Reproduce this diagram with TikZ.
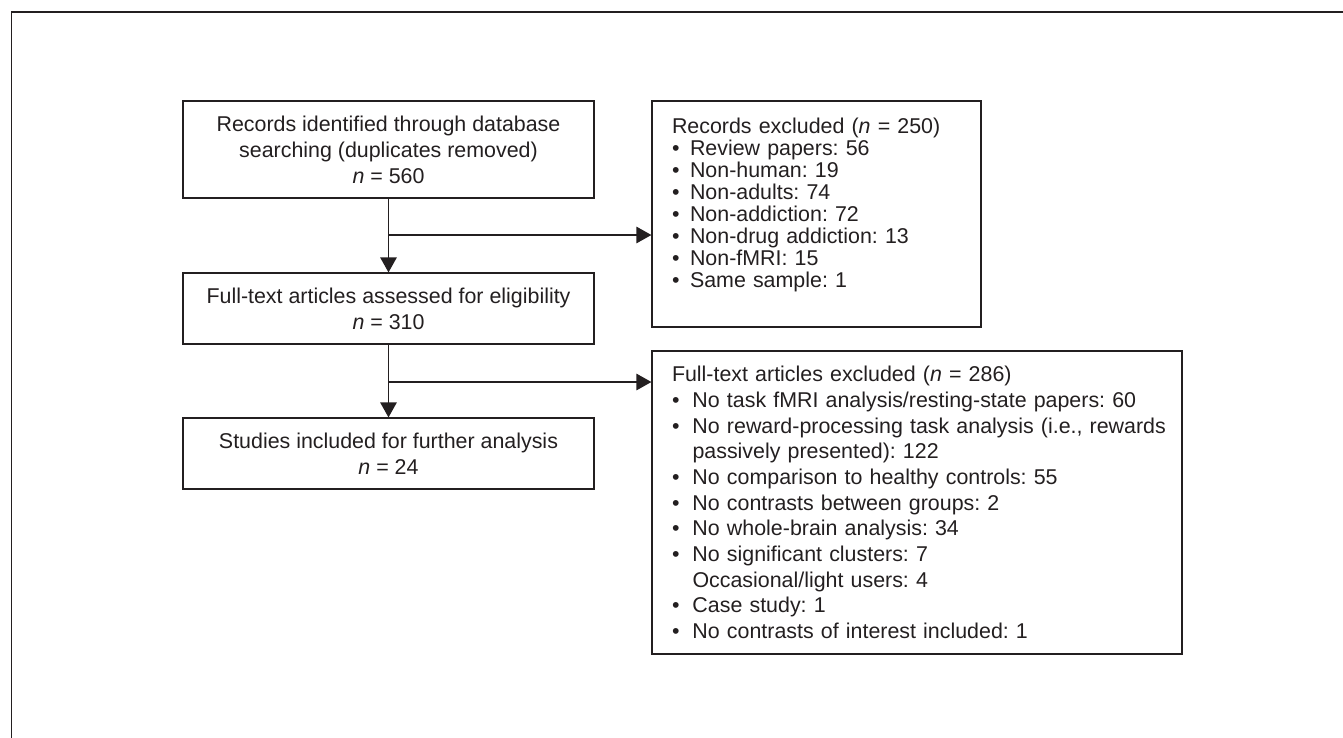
\documentclass[tikz,border=0pt]{standalone}
\usepackage{fontspec}
\setmainfont{Liberation Sans}
\usetikzlibrary{arrows.meta,calc}
\definecolor{ink}{HTML}{231F20}
\frenchspacing
\newcommand{\bulA}{\makebox[18pt][l]{•}}
\newcommand{\bulB}{\makebox[20.5pt][l]{•}}
\newcommand{\indB}{\hspace*{20.5pt}}
\begin{document}
\begin{tikzpicture}[x=1pt,y=-1pt,
  every node/.style={text=ink},
  cbox/.style={draw=ink, line width=1.2pt, minimum width=411pt, align=center,
    font=\fontsize{21.4}{26}\selectfont\frenchspacing, inner sep=0pt},
  lboxA/.style={draw=ink, line width=1.2pt, inner xsep=20pt, inner ysep=0pt,
    text width=289pt, align=left, font=\fontsize{21.4}{22}\selectfont\frenchspacing},
  lboxB/.style={draw=ink, line width=1.2pt, inner xsep=20pt, inner ysep=0pt,
    text width=490pt, align=left, font=\fontsize{21.4}{25.7}\selectfont\frenchspacing},
  arr/.style={draw=ink, line width=1.2pt, -{Triangle[length=15pt,width=16.5pt]}},
  conn/.style={draw=ink, line width=1.2pt}
]
\useasboundingbox (0,0) rectangle (1343,738);
% outer frame
\draw[draw=ink, line width=1.3pt] (11.5,738) -- (11.5,12) -- (1343,12);

\node[cbox, minimum height=97pt] (b1) at (388.5,149.5)
  {Records identified through database\\searching (duplicates removed)\\\textit{n} = 560};
\node[cbox, minimum height=71pt] (b2) at (388.5,308.5)
  {Full-text articles assessed for eligibility\\\textit{n} = 310};
\node[cbox, minimum height=71pt] (b3) at (388.5,453.5)
  {Studies included for further analysis\\\textit{n} = 24};

\node[lboxA, minimum width=329pt, minimum height=226pt] (r1) at (816.5,214)
  {\mbox{Records excluded (\textit{n} = 250)}\\
   \mbox{\bulA Review papers: 56}\\
   \mbox{\bulA Non-human: 19}\\
   \mbox{\bulA Non-adults: 74}\\
   \mbox{\bulA Non-addiction: 72}\\
   \mbox{\bulA Non-drug addiction: 13}\\
   \mbox{\bulA Non-fMRI: 15}\\
   \mbox{\bulA Same sample: 1}\\
   \mbox{}};

\node[lboxB, minimum width=530pt, minimum height=303pt] (r2) at (917,502.5)
  {\mbox{Full-text articles excluded (\textit{n} = 286)}\\
   \mbox{\bulB No task fMRI analysis/resting-state papers: 60}\\
   \mbox{\bulB No reward-processing task analysis (i.e., rewards}\\
   \mbox{\indB passively presented): 122}\\
   \mbox{\bulB No comparison to healthy controls: 55}\\
   \mbox{\bulB No contrasts between groups: 2}\\
   \mbox{\bulB No whole-brain analysis: 34}\\
   \mbox{\bulB No significant clusters: 7}\\
   \mbox{\indB Occasional/light users: 4}\\
   \mbox{\bulB Case study: 1}\\
   \mbox{\bulB No contrasts of interest included: 1}};

\coordinate (j1) at (388.5,235);
\coordinate (j2) at (388.5,382);

\draw[arr] (b1.south) -- (b2.north);
\draw[arr] (b2.south) -- (b3.north);
\draw[arr] (j1) -- (j1 -| r1.west);
\draw[arr] (j2) -- (j2 -| r2.west);
\end{tikzpicture}
\end{document}
